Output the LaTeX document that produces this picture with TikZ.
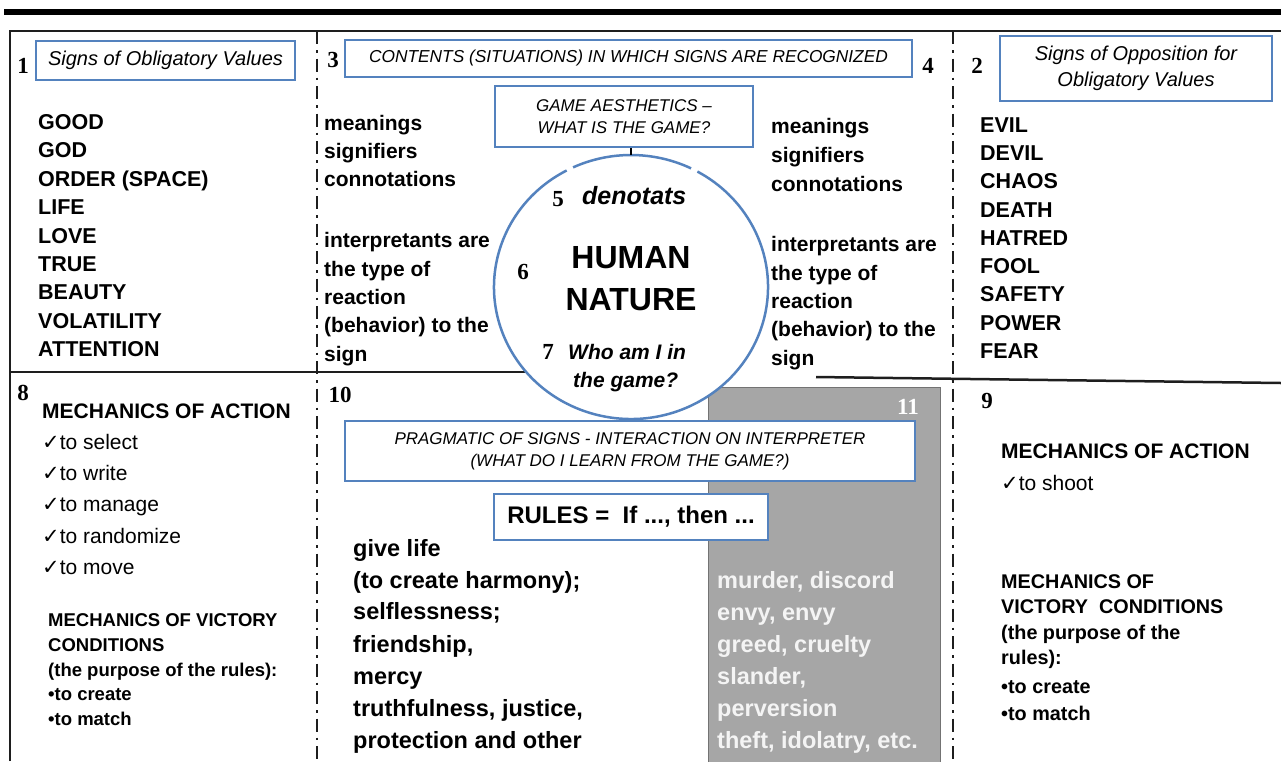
\documentclass[tikz,border=0pt]{standalone}
\usepackage{fontspec}
\setmainfont{Liberation Sans}
\newfontfamily\tnr{Liberation Serif}
\newfontfamily\djv{DejaVu Sans}
\usetikzlibrary{shapes.geometric}
\definecolor{boxblue}{RGB}{84,130,190}
\definecolor{framegray}{RGB}{30,30,30}
\definecolor{grayfill}{RGB}{166,166,166}
\definecolor{lighttxt}{RGB}{244,244,244}
\newcommand\fsz[1]{\fontsize{#1}{#1}\selectfont}
\newcommand\chkm{{\djv\fsz{21}✓}}
\begin{document}
\begin{tikzpicture}[x=1pt,y=1pt,
  lst/.style={anchor=base west, inner sep=0pt, font=\fsz{21.5}\bfseries},
  mid/.style={anchor=base west, inner sep=0pt, font=\fsz{21}\bfseries},
  chk/.style={anchor=base west, inner sep=0pt, font=\fsz{21}},
  vic/.style={anchor=base west, inner sep=0pt, font=\fsz{18.5}\bfseries},
  vicr/.style={anchor=base west, inner sep=0pt, font=\fsz{19.8}\bfseries},
  big/.style={anchor=base west, inner sep=0pt, font=\fsz{23.5}\bfseries},
  num/.style={anchor=center, inner sep=0pt, font=\tnr\fsz{23}\bfseries},
  bluebox/.style={draw=boxblue, line width=2.2pt, fill=white, inner sep=0pt, align=center, font=\itshape\fsz{17}},
  dd/.style={line width=2.2pt, framegray, dash pattern=on 13pt off 6pt on 2.5pt off 6pt},
  rule/.style={line width=2.5pt, framegray}]
\useasboundingbox (0,0) rectangle (1281,-761);
\clip (0,0) rectangle (1281,-761);
% gray box 11
\node[draw=black!55, line width=0.8pt, fill=grayfill, minimum width=232pt, minimum height=380pt, anchor=north west, inner sep=0pt] (gray) at (708,-387) {};
% frame
\draw[line width=5.5pt, black] (4,-12) -- (1281,-12);
\draw[rule] (10,-761) -- (10,-31) -- (1281,-31);
\draw[dd] (317,-31) -- (317,-761);
\draw[dd] (953,-31) -- (953,-761);
\draw[rule] (10,-372) -- (631,-372);
\draw[rule] (816,-377) -- (1281,-383);
% circle
\node[ellipse, minimum width=274pt, minimum height=264pt, fill=white, inner sep=0pt] (circ) at (631,-287) {};
\draw[boxblue, line width=2.5pt] (circ.center) ++(64:137pt and 132pt) arc[start angle=64, end angle=115, x radius=137pt, y radius=132pt];
\draw[boxblue, line width=2.5pt] (circ.center) ++(118:137pt and 132pt) arc[start angle=118, end angle=421, x radius=137pt, y radius=132pt];
% boxes
\node[bluebox, minimum width=259pt, minimum height=39pt, font=\itshape\fsz{20}] (b1) at (165.5,-60.5) {Signs of Obligatory Values};
\node[bluebox, minimum width=567pt, minimum height=37pt, font=\itshape\fsz{17.3}] (b3) at (628.5,-58.5) {CONTENTS (SITUATIONS) IN WHICH SIGNS ARE RECOGNIZED};
\node[bluebox, minimum width=272pt, minimum height=65pt, font=\itshape\fsz{20}] (b2) at (1136,-68.5) {Signs of Opposition for\\[6pt]Obligatory Values};
\node[bluebox, minimum width=258pt, minimum height=61pt] (game) at (624,-116.5) {GAME AESTHETICS –\\[5pt]WHAT IS THE GAME?};
\draw[line width=1.8pt, black] (game.south -| circ.north) -- (circ.north);
\node[bluebox, minimum width=570pt, minimum height=60pt] (prag) at (630,-451) {PRAGMATIC OF SIGNS - INTERACTION ON INTERPRETER\\[5pt](WHAT DO I LEARN FROM THE GAME?)};
\node[bluebox, minimum width=274pt, minimum height=46pt, font=\fsz{24}\bfseries] (rules) at (631,-517) {RULES =\ \ If ..., then ...};
% numbers
\node[num] (n1) at (23,-66) {1};
\node[num] (n3) at (333,-60) {3};
\node[num] (n4) at (928,-66) {4};
\node[num] (n2) at (977,-66) {2};
\node[num] (n5) at (558,-199) {5};
\node[num] (n6) at (523,-272) {6};
\node[num] (n7) at (548,-352) {7};
\node[num] (n8) at (23,-393) {8};
\node[num] (n10) at (340,-395) {10};
\node[num, text=white] (n11) at (908,-407) {11};
\node[num] (n9) at (987,-401) {9};
% circle texts
\node[anchor=base west, inner sep=0pt, font=\fsz{25}\bfseries\itshape] (deno) at (582,-204) {denotats};
\node[anchor=base, inner sep=0pt, font=\fsz{32}\bfseries] (hum) at (631,-268) {HUMAN};
\node[anchor=base, inner sep=0pt, font=\fsz{32}\bfseries] (nat) at (631,-310) {NATURE};
\node[anchor=base west, inner sep=0pt, font=\fsz{21}\bfseries\itshape] (who) at (568,-359) {Who am I in};
\node[anchor=base west, inner sep=0pt, font=\fsz{21}\bfseries\itshape] (gam) at (573,-387) {the game?};
% left list
\node[lst] (l0) at (38,-129.3) {GOOD};
\node[lst] (l1) at (38,-157.7) {GOD};
\node[lst] (l2) at (38,-186.1) {ORDER (SPACE)};
\node[lst] (l3) at (38,-214.6) {LIFE};
\node[lst] (l4) at (38,-243.0) {LOVE};
\node[lst] (l5) at (38,-271.4) {TRUE};
\node[lst] (l6) at (38,-299.8) {BEAUTY};
\node[lst] (l7) at (38,-328.3) {VOLATILITY};
\node[lst] (l8) at (38,-356.7) {ATTENTION};
% right list
\node[lst] (r0) at (980,-132.3) {EVIL};
\node[lst] (r1) at (980,-160.5) {DEVIL};
\node[lst] (r2) at (980,-188.8) {CHAOS};
\node[lst] (r3) at (980,-217.0) {DEATH};
\node[lst] (r4) at (980,-245.3) {HATRED};
\node[lst] (r5) at (980,-273.5) {FOOL};
\node[lst] (r6) at (980,-301.8) {SAFETY};
\node[lst] (r7) at (980,-330.0) {POWER};
\node[lst] (r8) at (980,-358.3) {FEAR};
% middle columns
\node[mid] (ml1) at (324,-130) {meanings};
\node[mid] (ml2) at (324,-158.4) {signifiers};
\node[mid] (ml3) at (324,-186.8) {connotations};
\node[mid] (ml4) at (324,-247.7) {interpretants are};
\node[mid] (ml5) at (324,-276.1) {the type of};
\node[mid] (ml6) at (324,-304.5) {reaction};
\node[mid] (ml7) at (324,-332.9) {(behavior) to the};
\node[mid] (ml8) at (324,-361.3) {sign};
\node[mid] (mr1) at (771,-133.3) {meanings};
\node[mid] (mr2) at (771,-162) {signifiers};
\node[mid] (mr3) at (771,-191) {connotations};
\node[mid] (mr4) at (771,-251.7) {interpretants are};
\node[mid] (mr5) at (771,-280) {the type of};
\node[mid] (mr6) at (771,-308.3) {reaction};
\node[mid] (mr7) at (771,-336.7) {(behavior) to the};
\node[mid] (mr8) at (771,-365) {sign};
% bottom left
\node[mid] (ma8) at (42,-418) {MECHANICS OF ACTION};
\node[chk] (c1) at (42,-449) {\chkm to select};
\node[chk] (c2) at (42,-480) {\chkm to write};
\node[chk] (c3) at (42,-511) {\chkm to manage};
\node[chk] (c4) at (42,-543) {\chkm to randomize};
\node[chk] (c5) at (42,-574) {\chkm to move};
\node[vic] (v1) at (48,-626) {MECHANICS OF VICTORY};
\node[vic] (v2) at (48,-651) {CONDITIONS};
\node[vic] (v3) at (48,-676) {(the purpose of the rules):};
\node[vic] (v4) at (48,-700) {•to create};
\node[vic] (v5) at (48,-725) {•to match};
% bottom middle
\node[big] (g1) at (353,-556) {give life};
\node[big] (g2) at (353,-588) {(to create harmony);};
\node[big] (g3) at (353,-619) {selflessness;};
\node[big] (g4) at (353,-652) {friendship,};
\node[big] (g5) at (353,-684) {mercy};
\node[big] (g6) at (353,-716) {truthfulness, justice,};
\node[big] (g7) at (353,-748) {protection and other};
\node[big, text=lighttxt] (e1) at (717,-588) {murder, discord};
\node[big, text=lighttxt] (e2) at (717,-620) {envy, envy};
\node[big, text=lighttxt] (e3) at (717,-652) {greed, cruelty};
\node[big, text=lighttxt] (e4) at (717,-684) {slander,};
\node[big, text=lighttxt] (e5) at (717,-716) {perversion};
\node[big, text=lighttxt] (e6) at (717,-748) {theft, idolatry, etc.};
% bottom right
\node[mid] (ma9) at (1001,-458) {MECHANICS OF ACTION};
\node[chk] (c9) at (1001,-490) {\chkm to shoot};
\node[vicr] (w1) at (1001,-588) {MECHANICS OF};
\node[vicr] (w2) at (1001,-613) {VICTORY\ \ CONDITIONS};
\node[vicr] (w3) at (1001,-639) {(the purpose of the};
\node[vicr] (w4) at (1001,-664) {rules):};
\node[vicr] (w5) at (1001,-693) {•to create};
\node[vicr] (w6) at (1001,-720) {•to match};
\end{tikzpicture}
\end{document}
